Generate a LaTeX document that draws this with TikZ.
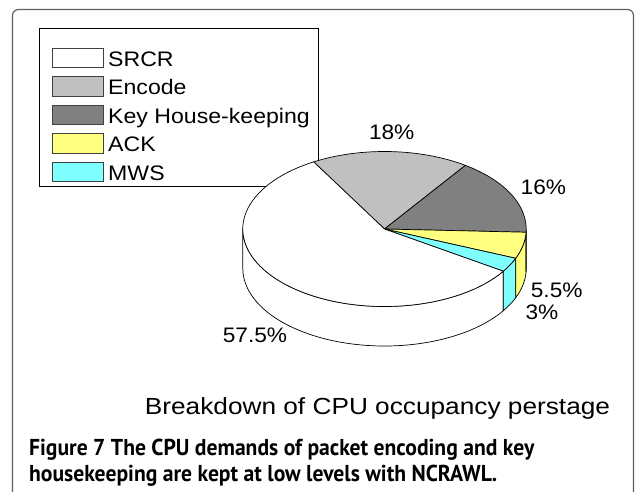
\documentclass[tikz,border=0pt]{standalone}
\usepackage{fontspec}
\setmainfont{Liberation Sans}
\newfontfamily\capfont{PT Sans}
\definecolor{encodegray}{RGB}{192,192,192}
\definecolor{keygray}{RGB}{128,128,128}
\definecolor{ackyellow}{RGB}{255,255,128}
\definecolor{mwscyan}{RGB}{128,255,255}
\definecolor{framegray}{RGB}{95,95,95}
\tikzset{
  slice/.style={draw=black, line width=0.7pt, line join=round},
  pie arc/.style={x radius=141.7pt, y radius=77.5pt},
  swatch/.style={draw=black!75, line width=0.8pt, anchor=north west,
    minimum width=51pt, minimum height=19.5pt, inner sep=0pt},
  legtext/.style={font=\fontsize{21}{25}\selectfont, xscale=1.1,
    anchor=base west, inner sep=0pt},
  pct/.style={font=\fontsize{21}{25}\selectfont, xscale=1.08,
    anchor=base, inner sep=0pt},
  captext/.style={font=\capfont\bfseries\fontsize{23}{27}\selectfont,
    xscale=0.94, anchor=base west, inner sep=0pt},
}
\begin{document}
\begin{tikzpicture}[x=1pt,y=-1pt]
  \useasboundingbox (0,0) rectangle (635,492);
  % page frame
  \draw[framegray, line width=1.2pt, rounded corners=6pt]
    (12.5,500) -- (12.5,9.5) -- (633.5,9.5) -- (633.5,500);

  % legend
  \node[draw=black, fill=white, line width=0.8pt, anchor=north west,
    minimum width=279.5pt, minimum height=158pt, inner sep=0pt]
    (legend) at (38.5,28) {};
  \node[swatch, fill=white] (srcrbox) at (51.7,48) {};
  \node[swatch, fill=encodegray] (encodebox) at (51.7,76.5) {};
  \node[swatch, fill=keygray] (keybox) at (51.7,105) {};
  \node[swatch, fill=ackyellow] (ackbox) at (51.7,133.5) {};
  \node[swatch, fill=mwscyan] (mwsbox) at (51.7,162) {};
  \node[legtext] (srcr) at (108,66.7) {SRCR};
  \node[legtext] (encode) at (108,95) {Encode};
  \node[legtext] (key) at (108,123.3) {Key House-keeping};
  \node[legtext] (ack) at (108,151.7) {ACK};
  \node[legtext] (mws) at (108,180.3) {MWS};

  % pie
  \coordinate (pc) at (384.5,229);
  \foreach \a/\b/\c in {-180/-33/white, -33/-22.2/mwscyan,
      -22.2/-2.4/ackyellow, -2.4/0/keygray}
    \filldraw[slice, fill=\c] (pc) ++(\a:141.7pt and 77.5pt)
      arc[pie arc, start angle=\a, end angle=\b] -- ++(0,-39.5pt)
      arc[pie arc, start angle=\b, end angle=\a] -- cycle;
  \foreach \a/\b/\c in {120/55.2/encodegray, 55.2/-2.4/keygray,
      -2.4/-22.2/ackyellow, -22.2/-33/mwscyan, -33/-240/white}
    \filldraw[slice, fill=\c] (pc) -- ++(\a:141.7pt and 77.5pt)
      arc[pie arc, start angle=\a, end angle=\b] -- cycle;

  \node[pct] (p18) at (391.7,140) {18\%};
  \node[pct] (p16) at (543.4,194) {16\%};
  \node[pct] (p55) at (556.7,297.3) {5.5\%};
  \node[pct] (p3) at (542,319.3) {3\%};
  \node[pct] (p575) at (255,342.7) {57.5\%};

  \node[font=\fontsize{23.3}{28}\selectfont, xscale=1.126, anchor=base,
    inner sep=0pt] (title) at (377.5,414.3)
    {Breakdown of CPU occupancy perstage};

  % caption
  \node[captext] (cap1) at (29,455)
    {Figure 7 The CPU demands of packet encoding and key};
  \node[captext] (cap2) at (29,481.7)
    {housekeeping are kept at low levels with NCRAWL.};
\end{tikzpicture}
\end{document}
